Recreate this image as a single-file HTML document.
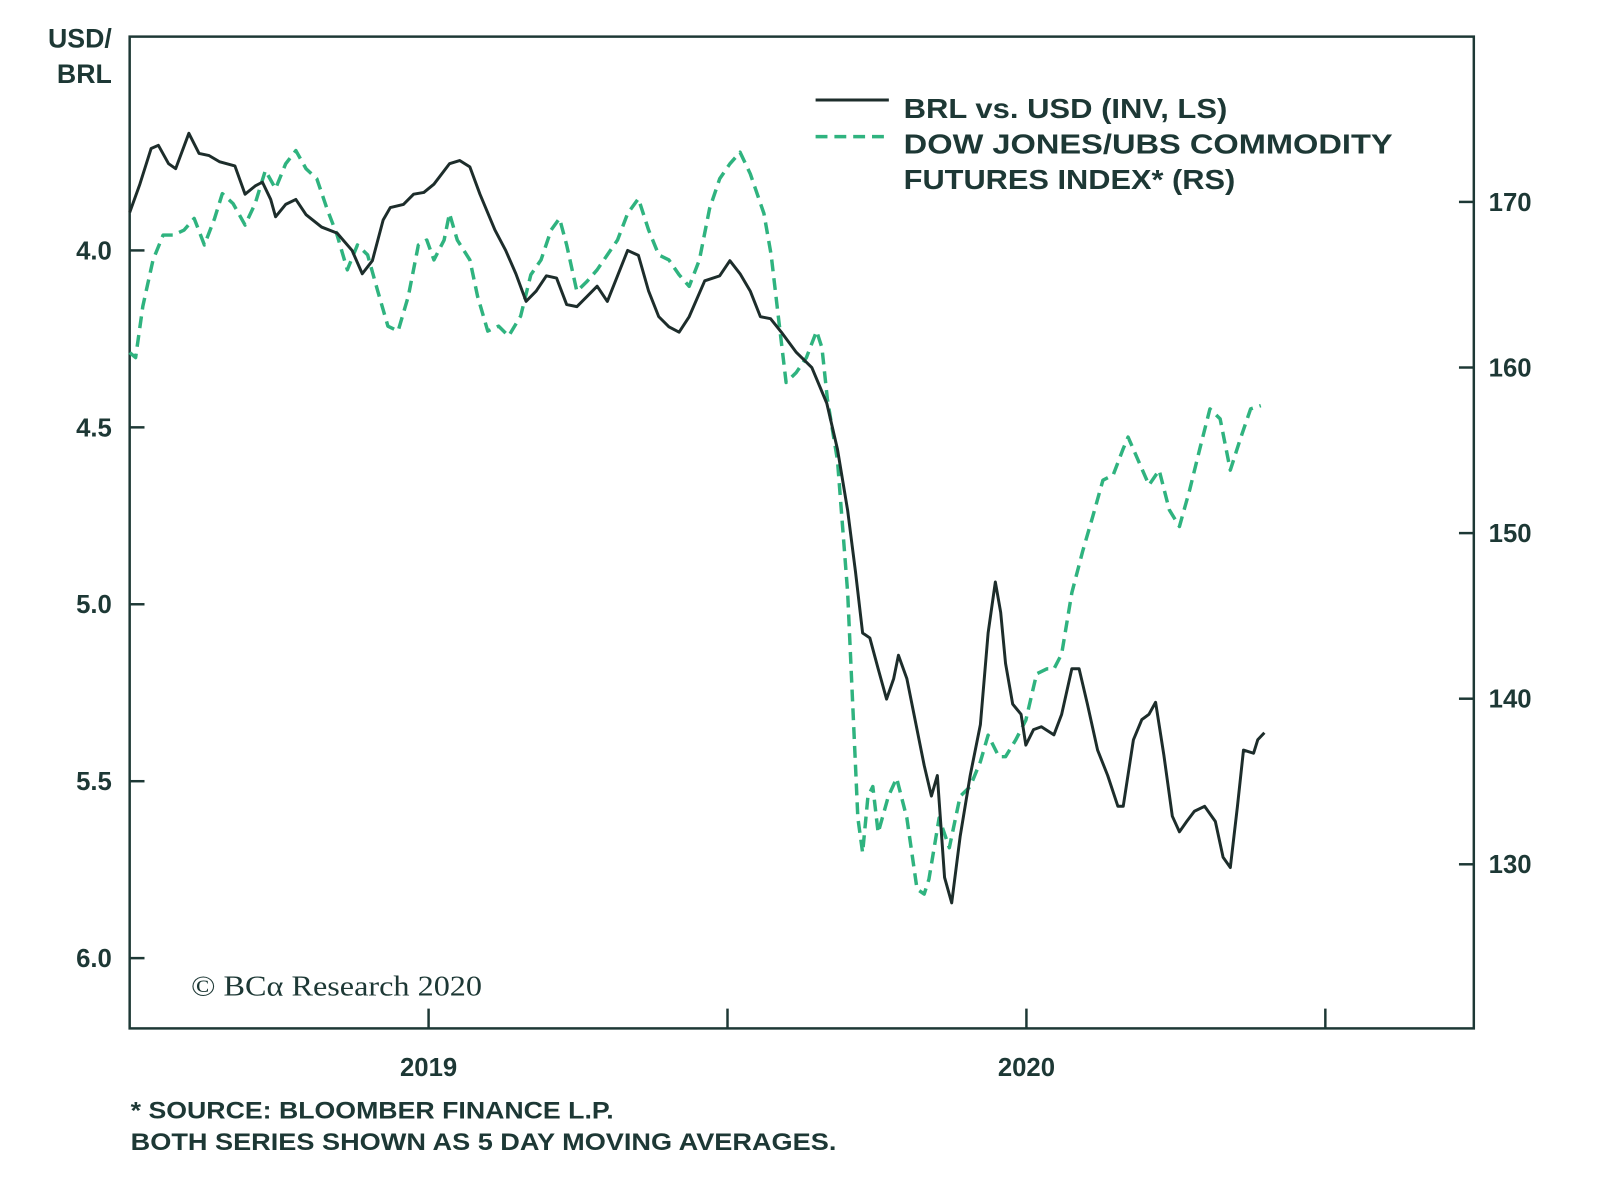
<!DOCTYPE html>
<html><head><meta charset="utf-8"><style>
body{margin:0;background:#fff;}
svg{display:block;}
text{font-family:"Liberation Sans",sans-serif;fill:#1d3835;font-weight:bold;}
</style></head><body>
<svg id="chart" width="1600" height="1196" viewBox="0 0 1600 1196" xmlns="http://www.w3.org/2000/svg">
<g transform="scale(0.9898)">
<rect x="131" y="37" width="1358" height="1002" fill="none" stroke="#1d3835" stroke-width="2.5"/>
<g id="axes"></g>
<text x="113" y="48" text-anchor="end" font-size="27">USD/</text>
<text x="113" y="84" text-anchor="end" font-size="27">BRL</text>
<g>
<line x1="824" y1="101" x2="898" y2="101" stroke="#1d2d2b" stroke-width="3"/>
<text x="913" y="119" font-size="28" textLength="327" lengthAdjust="spacingAndGlyphs">BRL vs. USD (INV, LS)</text>
<line x1="824" y1="138" x2="898" y2="138" stroke="#2fb37f" stroke-width="3.5" stroke-dasharray="12,7"/>
<text x="913" y="155" font-size="28" textLength="494" lengthAdjust="spacingAndGlyphs">DOW JONES/UBS COMMODITY</text>
<text x="913" y="191" font-size="28" textLength="335" lengthAdjust="spacingAndGlyphs">FUTURES INDEX* (RS)</text>
</g>
<text x="193" y="1006" font-size="29" textLength="294" lengthAdjust="spacingAndGlyphs" style="font-family:'Liberation Serif',serif;font-weight:normal">© BCα Research 2020</text>
<text x="132" y="1130" font-size="24" textLength="488" lengthAdjust="spacingAndGlyphs">* SOURCE: BLOOMBER FINANCE L.P.</text>
<text x="132" y="1162" font-size="24" textLength="713" lengthAdjust="spacingAndGlyphs">BOTH SERIES SHOWN AS 5 DAY MOVING AVERAGES.</text>
<g id="series"></g>
</g>
</svg>
<script>
const leftTicks=[4.0,4.5,5.0,5.5,6.0];
const leftTickLabels=["4.0","4.5","5.0","5.5","6.0"];
const rightTicks=[170,160,150,140,130];
const rightTickLabels=["170","160","150","140","130"];
const xTicks=[2019.0,2019.5,2020.0,2020.5];
const xTickLabels=["2019","","2020",""];
const brlDates=[2018.500,2018.517,2018.536,2018.548,2018.565,2018.577,2018.599,2018.616,2018.633,2018.650,2018.676,2018.693,2018.710,2018.722,2018.736,2018.744,2018.761,2018.778,2018.795,2018.821,2018.847,2018.872,2018.889,2018.906,2018.924,2018.936,2018.958,2018.975,2018.992,2019.009,2019.035,2019.052,2019.069,2019.086,2019.111,2019.129,2019.146,2019.163,2019.180,2019.197,2019.214,2019.231,2019.248,2019.265,2019.282,2019.299,2019.316,2019.333,2019.351,2019.368,2019.385,2019.402,2019.419,2019.436,2019.462,2019.487,2019.504,2019.521,2019.538,2019.555,2019.572,2019.590,2019.615,2019.641,2019.666,2019.684,2019.701,2019.714,2019.726,2019.738,2019.752,2019.766,2019.778,2019.786,2019.800,2019.812,2019.829,2019.841,2019.851,2019.863,2019.875,2019.889,2019.906,2019.923,2019.936,2019.948,2019.957,2019.965,2019.977,2019.991,2019.999,2020.012,2020.025,2020.046,2020.059,2020.076,2020.088,2020.102,2020.119,2020.136,2020.153,2020.162,2020.179,2020.193,2020.205,2020.216,2020.230,2020.244,2020.256,2020.268,2020.281,2020.298,2020.316,2020.329,2020.341,2020.353,2020.363,2020.380,2020.387,2020.398];
const brlValues=[3.893,3.813,3.712,3.703,3.755,3.769,3.669,3.726,3.732,3.749,3.761,3.841,3.818,3.807,3.856,3.905,3.870,3.856,3.899,3.934,3.951,4.000,4.066,4.029,3.914,3.879,3.870,3.841,3.836,3.813,3.755,3.746,3.764,3.841,3.942,4.000,4.066,4.144,4.115,4.072,4.078,4.153,4.159,4.130,4.101,4.144,4.072,4.000,4.014,4.115,4.187,4.216,4.231,4.187,4.086,4.072,4.029,4.066,4.115,4.187,4.193,4.231,4.288,4.331,4.432,4.562,4.735,4.908,5.081,5.095,5.182,5.268,5.210,5.144,5.210,5.311,5.455,5.542,5.484,5.772,5.844,5.657,5.484,5.340,5.081,4.937,5.023,5.167,5.282,5.311,5.398,5.354,5.346,5.369,5.311,5.182,5.182,5.282,5.412,5.484,5.571,5.571,5.383,5.326,5.311,5.277,5.427,5.599,5.643,5.614,5.585,5.571,5.614,5.715,5.744,5.571,5.412,5.421,5.383,5.363];
const comDates=[2018.500,2018.510,2018.522,2018.539,2018.556,2018.573,2018.591,2018.608,2018.625,2018.642,2018.655,2018.673,2018.693,2018.710,2018.727,2018.744,2018.761,2018.778,2018.795,2018.813,2018.830,2018.847,2018.864,2018.881,2018.898,2018.915,2018.932,2018.949,2018.966,2018.983,2018.997,2019.009,2019.026,2019.035,2019.048,2019.069,2019.082,2019.099,2019.117,2019.134,2019.154,2019.171,2019.188,2019.205,2019.219,2019.231,2019.248,2019.265,2019.282,2019.299,2019.316,2019.333,2019.351,2019.368,2019.385,2019.402,2019.419,2019.436,2019.453,2019.470,2019.487,2019.504,2019.521,2019.538,2019.561,2019.573,2019.585,2019.598,2019.615,2019.632,2019.649,2019.658,2019.667,2019.684,2019.701,2019.718,2019.726,2019.735,2019.743,2019.752,2019.769,2019.783,2019.800,2019.817,2019.829,2019.837,2019.854,2019.871,2019.889,2019.906,2019.923,2019.936,2019.954,2019.965,2019.982,2019.999,2020.017,2020.034,2020.046,2020.059,2020.076,2020.094,2020.111,2020.128,2020.145,2020.162,2020.170,2020.187,2020.205,2020.222,2020.239,2020.256,2020.273,2020.290,2020.307,2020.324,2020.341,2020.358,2020.375,2020.392];
const comValues=[160.9,160.6,163.7,166.5,168.0,168.0,168.3,169.0,167.4,169.0,170.5,169.9,168.6,169.9,171.9,170.8,172.3,173.1,172.0,171.4,169.6,168.0,165.9,167.4,166.8,164.6,162.5,162.2,164.3,167.4,167.7,166.5,167.7,169.3,167.7,166.5,164.3,162.2,162.5,161.9,163.1,165.6,166.5,168.3,169.0,167.4,164.6,165.2,165.9,166.8,167.7,169.3,170.2,168.3,166.8,166.5,165.6,164.9,166.5,169.6,171.4,172.3,173.0,171.7,169.3,166.8,163.1,159.1,159.7,160.6,162.2,161.2,158.1,154.4,146.4,132.8,130.7,134.1,134.7,131.9,134.1,135.2,132.8,128.5,128.2,129.1,132.8,131.0,134.1,134.7,136.2,137.8,136.5,136.5,137.5,138.7,141.5,141.8,141.8,142.7,146.4,148.9,151.0,153.2,153.5,155.1,155.8,154.4,152.9,153.8,151.4,150.4,152.6,155.1,157.5,156.9,153.8,155.7,157.5,157.7];

const NS="http://www.w3.org/2000/svg";
const xScale=t=>131+(t-2018.5)*604;
const yLeft=v=>253+(v-4)*357.5;
const yRight=g=>204+(170-g)*16.73;
const axes=document.getElementById('axes');
const series=document.getElementById('series');
function mk(tag,attrs,parent){const e=document.createElementNS(NS,tag);for(const k in attrs)e.setAttribute(k,attrs[k]);parent.appendChild(e);return e;}
leftTicks.forEach((v,i)=>{
  const y=yLeft(v);
  const l=mk('line',{x1:131,x2:146,y1:y,y2:y,stroke:'#1d3835','stroke-width':2.5},axes);
  
  
  const t=mk('text',{x:113,y:y+9,'text-anchor':'end','font-size':26},axes);
  t.textContent=leftTickLabels[i];
  
  
});
rightTicks.forEach((v,i)=>{
  const y=yRight(v);
  const l=mk('line',{x1:1474,x2:1489,y1:y,y2:y,stroke:'#1d3835','stroke-width':2.5},axes);
  
  
  const t=mk('text',{x:1504,y:y+9,'font-size':26},axes);
  t.textContent=rightTickLabels[i];
  
  
});
xTicks.forEach((v,i)=>{
  const x=xScale(v);
  const l=mk('line',{x1:x,x2:x,y1:1019,y2:1039,stroke:'#1d3835','stroke-width':2.5},axes);
  
  
  if(xTickLabels[i]){
    const t=mk('text',{x:x,y:1087,'text-anchor':'middle','font-size':26},axes);
    t.textContent=xTickLabels[i];
    
    
  }
});
const comPath=mk('path',{d:comDates.map((t,i)=>(i?'L':'M')+xScale(t).toFixed(1)+','+yRight(comValues[i]).toFixed(1)).join(''),fill:'none',stroke:'#2fb37f','stroke-width':3.5,'stroke-dasharray':'12,7','stroke-linejoin':'round'},series);


const brlPath=mk('path',{d:brlDates.map((t,i)=>(i?'L':'M')+xScale(t).toFixed(1)+','+yLeft(brlValues[i]).toFixed(1)).join(''),fill:'none',stroke:'#1d2d2b','stroke-width':3,'stroke-linejoin':'round'},series);


</script>
</body></html>
